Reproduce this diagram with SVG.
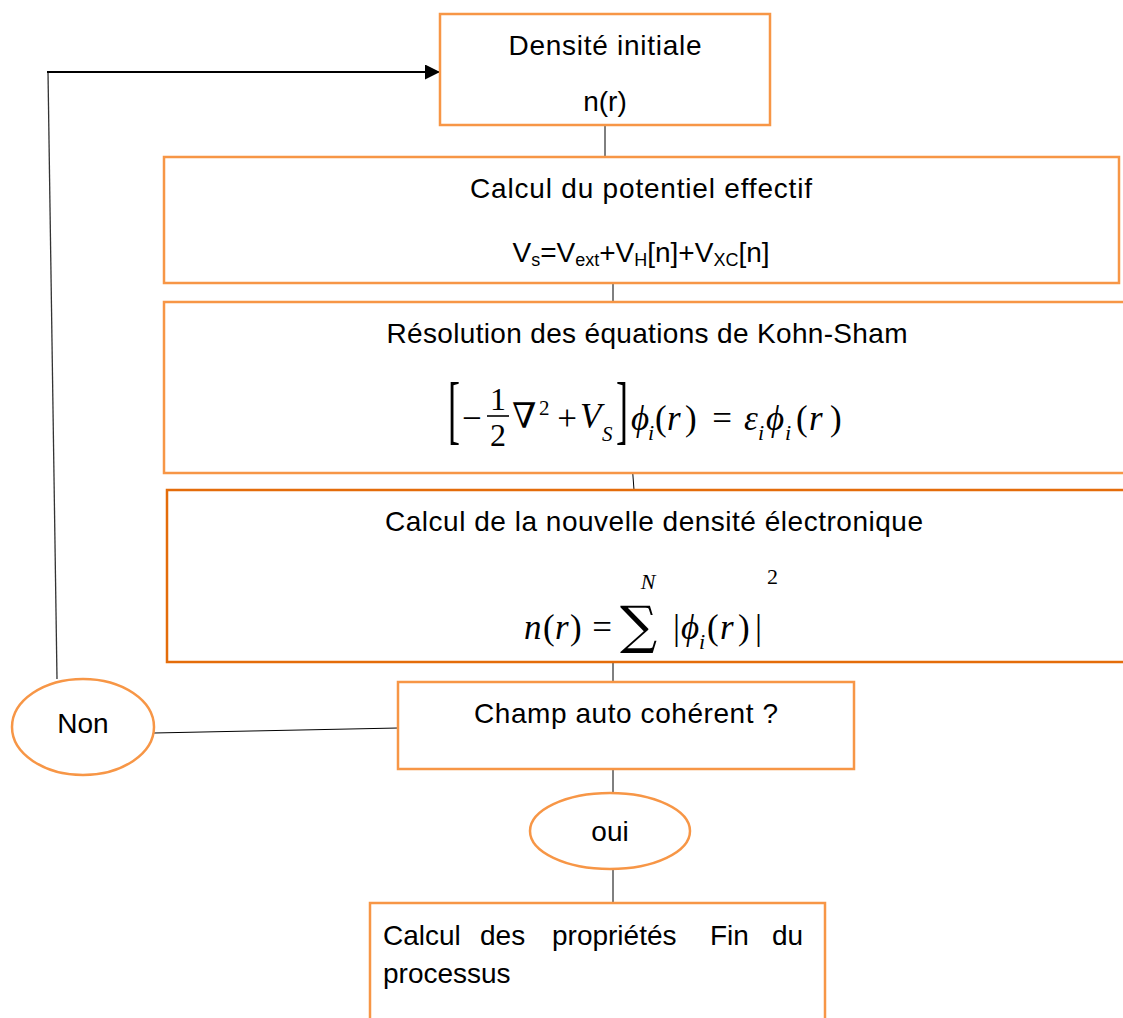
<svg xmlns="http://www.w3.org/2000/svg" width="1123" height="1018" viewBox="0 0 1123 1018">
<defs>
<style>
.box{fill:#fff;stroke:#F79646;stroke-width:2.5}
.box4{fill:#fff;stroke:#E46C0A;stroke-width:2.5}
.t{font-family:"Liberation Sans",Arial,sans-serif;font-size:28px;fill:#000}
.m{font-family:"Liberation Serif","DejaVu Serif",serif;font-size:35px;fill:#000}
.it{font-style:italic}
.sub{font-size:22px}
.conn{stroke:#000;stroke-width:1;fill:none}
</style>
<marker id="arr" markerUnits="userSpaceOnUse" markerWidth="16" markerHeight="16" refX="15" refY="7.5" orient="auto">
<path d="M0,0 L15,7.5 L0,15 z" fill="#000"/>
</marker>
</defs>
<rect width="1123" height="1018" fill="#fff"/>

<g id="connectors">
<line class="conn" x1="605" y1="125" x2="605" y2="157"/>
<line class="conn" x1="613" y1="283" x2="613" y2="302"/>
<line class="conn" x1="632" y1="463" x2="634" y2="490"/>
<line class="conn" x1="613" y1="652" x2="613" y2="682"/>
<line class="conn" x1="613" y1="769" x2="613" y2="797"/>
<line class="conn" x1="613" y1="865" x2="613" y2="903"/>
<line class="conn" x1="398" y1="728" x2="154" y2="733"/>
<line x1="57" y1="679" x2="48" y2="72" stroke="#333" stroke-width="1.3"/>
<line x1="47" y1="72" x2="440" y2="72" stroke="#000" stroke-width="2" marker-end="url(#arr)"/>
</g>

<g id="n1">
<rect class="box" x="440" y="14" width="330" height="111"/>
<text class="t" x="605" y="55" text-anchor="middle" textLength="193">Densité initiale</text>
<text class="t" x="605" y="111" text-anchor="middle">n(r)</text>
</g>

<g id="n2">
<rect class="box" x="164" y="157" width="955" height="126"/>
<text class="t" x="641" y="198" text-anchor="middle" textLength="342">Calcul du potentiel effectif</text>
<text class="t" x="641" y="262" text-anchor="middle">V<tspan font-size="18" dy="4">s</tspan><tspan dy="-4">=V</tspan><tspan font-size="18" dy="4">ext</tspan><tspan dy="-4">+V</tspan><tspan font-size="18" dy="4">H</tspan><tspan dy="-4">[n]+V</tspan><tspan font-size="18" dy="4">XC</tspan><tspan dy="-4">[n]</tspan></text>
</g>

<g id="n3">
<rect class="box" x="164" y="302" width="990" height="171"/>
<text class="t" x="647" y="343" text-anchor="middle" textLength="521">Résolution des équations de Kohn-Sham</text>
<text class="m" transform="translate(448 435) scale(0.9 1.9)" style="font-size:40px">[</text>
<text class="m" x="462" y="430">−</text>
<text class="m" style="font-size:32px" x="498" y="410" text-anchor="middle">1</text>
<text class="m" style="font-size:32px" x="498" y="446" text-anchor="middle">2</text>
<line x1="487" y1="416" x2="509" y2="416" stroke="#000" stroke-width="1.6"/>
<text class="m"><tspan x="512" y="428">∇</tspan><tspan x="539" y="415" style="font-size:21px">2</tspan><tspan x="567" y="430" text-anchor="middle">+</tspan><tspan x="580" y="428" class="it">V</tspan></text>
<text class="m it" x="602" y="441" style="font-size:21px">S</text>
<text class="m" transform="translate(616 435) scale(0.9 1.9)" style="font-size:40px">]</text>
<text class="m"><tspan x="631" y="430" class="it">ϕ</tspan><tspan x="648" y="440" class="it sub">i</tspan><tspan x="655" y="430">(</tspan><tspan x="667" y="430" class="it">r</tspan><tspan x="685" y="430">)</tspan><tspan x="722" y="430" text-anchor="middle">=</tspan><tspan x="744" y="430" class="it">ε</tspan><tspan x="758" y="440" class="it sub">i</tspan><tspan x="766" y="430" class="it">ϕ</tspan><tspan x="785" y="440" class="it sub">i</tspan><tspan x="796" y="430">(</tspan><tspan x="809" y="430" class="it">r</tspan><tspan x="830" y="430">)</tspan></text>
</g>

<g id="n4">
<rect class="box4" x="167" y="490" width="990" height="172"/>
<text class="t" x="654" y="531" text-anchor="middle" textLength="538">Calcul de la nouvelle densité électronique</text>
<text class="m"><tspan x="524" y="639" class="it">n</tspan><tspan x="543" y="639">(</tspan><tspan x="555" y="639" class="it">r</tspan><tspan x="570" y="639">)</tspan><tspan x="602" y="639" text-anchor="middle">=</tspan></text>
<text x="620" y="643" font-family="DejaVu Serif,serif" font-size="52">∑</text>
<text class="m it" x="648" y="589" style="font-size:22px" text-anchor="middle">N</text>
<text class="m"><tspan x="673" y="639">|</tspan><tspan x="681" y="639" class="it">ϕ</tspan><tspan x="699" y="649" class="it sub">i</tspan><tspan x="707" y="639">(</tspan><tspan x="720" y="639" class="it">r</tspan><tspan x="738" y="639">)</tspan><tspan x="755" y="639">|</tspan></text>
<text class="m" x="767" y="584" style="font-size:22px">2</text>
</g>

<g id="n5">
<rect class="box" x="398" y="682" width="456" height="87"/>
<text class="t" x="626" y="723" text-anchor="middle" textLength="304">Champ auto cohérent ?</text>
</g>

<g id="n6">
<ellipse class="box" cx="83" cy="727" rx="71" ry="48"/>
<text class="t" x="83" y="733" text-anchor="middle">Non</text>
</g>

<g id="n7">
<ellipse class="box" cx="610" cy="831" rx="80" ry="38"/>
<text class="t" x="610" y="841" text-anchor="middle">oui</text>
</g>

<g id="n8">
<rect class="box" x="370" y="903" width="455" height="140"/>
<text class="t"><tspan x="383" y="945">Calcul</tspan><tspan x="480" y="945">des</tspan><tspan x="552" y="945">propriétés</tspan><tspan x="710" y="945">Fin</tspan><tspan x="772" y="945">du</tspan><tspan x="383" y="983">processus</tspan></text>
</g>
</svg>
